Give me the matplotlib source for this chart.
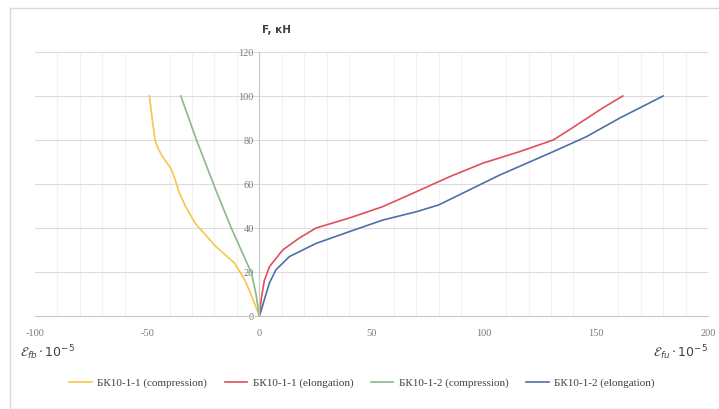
import numpy as np
import matplotlib.pyplot as plt
from matplotlib.patches import Rectangle

plt.rcParams['axes.unicode_minus'] = False

#%% Data (strain *1e-5, load kN)
F_c1   = [0, 4, 10, 16.4, 24, 31.5, 42, 50, 56, 62, 67, 73, 77, 80, 90, 100]
eps_c1 = [0, -1.5, -3.8, -6.5, -11, -19.3, -28.5, -33, -35.7, -37.5, -39.4, -43.5, -45.5, -46.5, -47.8, -49]

F_e1   = [0, 8, 16, 22.4, 30, 35.5, 40, 44.5, 49.7, 56.5, 63.3, 69.5, 74.7, 80, 84.5, 94.5, 100]
eps_e1 = [0, 0.9, 2.2, 4.5, 10.4, 17.9, 25.3, 40, 55, 70, 84.8, 99.7, 116, 131, 138, 153, 162]

F_c2   = [0, 10, 19.5, 40, 57, 80, 100]
eps_c2 = [0, -1.5, -3.5, -12.5, -19.3, -28, -35]

F_e2   = [0, 3, 7.3, 15, 21, 27, 33, 38.3, 43.6, 47.4, 50.5, 56.5, 64, 74.7, 81.5, 90, 100]
eps_e2 = [0, 1.0, 2.2, 4.5, 7.4, 13.4, 25.3, 40, 55, 70, 80, 92, 107, 131, 145.8, 160.7, 180]

labels = ['БК10-1-1 (compression)', 'БК10-1-1 (elongation)',
          'БК10-1-2 (compression)', 'БК10-1-2 (elongation)']
colors = ['#f7c64a', '#e0505c', '#8cb88c', '#4f6fa8']

#%% Figure
fig = plt.figure(figsize=(7.19, 4.09), dpi=100)
fig.patches.append(Rectangle((10/719, 0), 1, 1 - 8/409, transform=fig.transFigure,
                             fill=False, edgecolor='#d9d9d9', linewidth=1))
ax = fig.add_axes([35/719, 93/409, 673/719, 264/409])

ax.plot(eps_c1, F_c1, color=colors[0], lw=1.2, label=labels[0])
ax.plot(eps_e1, F_e1, color=colors[1], lw=1.2, label=labels[1])
ax.plot(eps_c2, F_c2, color=colors[2], lw=1.2, label=labels[2])
ax.plot(eps_e2, F_e2, color=colors[3], lw=1.2, label=labels[3])

ax.set_xlim(-100, 200)
ax.set_ylim(0, 120)
ax.set_xticks(np.arange(-100, 201, 50))
ax.set_xticks(np.arange(-100, 201, 10), minor=True)
ax.set_yticks(np.arange(0, 121, 20))
ax.grid(True, which='major', axis='y', color='#dcdcdc', lw=0.8)
ax.grid(True, which='minor', axis='x', color='#f2f2f2', lw=0.8)
ax.set_axisbelow(True)

for s in ['top', 'right']:
    ax.spines[s].set_visible(False)
ax.spines['left'].set_position(('data', 0))
ax.spines['left'].set_color('#c8c8c8')
ax.spines['bottom'].set_color('#c8c8c8')
ax.tick_params(axis='both', which='both', length=0, labelsize=7.5, labelcolor='#7a7a7a')
ax.tick_params(axis='x', pad=9)
ax.tick_params(axis='y', pad=4)
for lab in ax.get_xticklabels() + ax.get_yticklabels():
    lab.set_family('Liberation Serif')

fig.text(262/719, 1 - 30/409, 'F, кН', fontsize=7.5, fontweight='bold', color='#404040',
         ha='left', va='center')
fig.text(20/719, 1 - 353/409, r'$\mathcal{E}_{fb}\cdot10^{-5}$', fontsize=9, color='#404040',
         ha='left', va='center')
fig.text(653/719, 1 - 353/409, r'$\mathcal{E}_{fu}\cdot10^{-5}$', fontsize=9, color='#404040',
         ha='left', va='center')

leg = fig.legend(loc='center', bbox_to_anchor=(362/719, 1 - 383/409), ncol=4, frameon=False,
                 prop={'family': 'Liberation Serif', 'size': 8}, handlelength=2.0,
                 columnspacing=1.6, handletextpad=0.5)
for t in leg.get_texts():
    t.set_color('#404040')

fig.savefig('out.png', dpi=100)
